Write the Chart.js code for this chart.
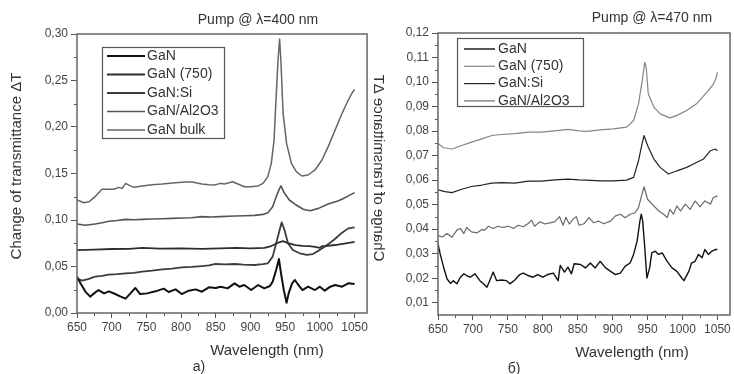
<!DOCTYPE html>
<html>
<head>
<meta charset="utf-8">
<script src="https://cdn.jsdelivr.net/npm/chart.js@4.4.1/dist/chart.umd.min.js"></script>
<style>
  body { margin: 0; background: #fff; }
  #wrap { position: relative; width: 734px; height: 374px; overflow: hidden; }
  .panel { position: absolute; top: 0; height: 374px; }
  #panelA { left: 0; width: 370px; }
  #panelB { left: 370px; width: 364px; }
</style>
</head>
<body>
<div id="wrap">
  <div class="panel" id="panelA"><canvas id="chartA"></canvas></div>
  <div class="panel" id="panelB"><canvas id="chartB"></canvas></div>
</div>
<script>
// ---- axis ticks ----
var xTicks = [650, 700, 750, 800, 850, 900, 950, 1000, 1050];
var xMinor = [675, 725, 775, 825, 875, 925, 975, 1025];
var yTicksA = [0, 0.05, 0.10, 0.15, 0.20, 0.25, 0.30];
var yMinorA = [0.025, 0.075, 0.125, 0.175, 0.225, 0.275];
var yTicksB = [0.01, 0.02, 0.03, 0.04, 0.05, 0.06, 0.07, 0.08, 0.09, 0.10, 0.11, 0.12];
var yMinorB = [0.015, 0.025, 0.035, 0.045, 0.055, 0.065, 0.075, 0.085, 0.095, 0.105, 0.115];

var labelsA = ["GaN", "GaN (750)", "GaN:Si", "GaN/Al2O3", "GaN bulk"];
var labelsB = ["GaN", "GaN (750)", "GaN:Si", "GaN/Al2O3"];

// ---- pump @ 400 nm ----
var ganA_wl = [650,655,662,669,676,681,689,696,705,713,720,727,734,741,751,763,775,782,792,801,811,821,830,840,850,857,867,877,884,891,901,911,920,928,932,937,941,944,948,952,955,960,964,969,975,983,993,1000,1007,1015,1022,1032,1041,1050];
var ganA_val = [0.039,0.032,0.023,0.0176,0.0219,0.0247,0.0211,0.0233,0.0204,0.0176,0.0154,0.0211,0.0269,0.0204,0.0211,0.0233,0.0262,0.0226,0.0254,0.0204,0.024,0.0254,0.0229,0.0276,0.0269,0.0283,0.0265,0.0319,0.0283,0.0301,0.0247,0.0301,0.0265,0.029,0.0337,0.0462,0.058,0.0427,0.0247,0.011,0.0211,0.0319,0.0355,0.0301,0.0247,0.0283,0.0247,0.0283,0.024,0.0283,0.0301,0.0283,0.0319,0.0312];

var g750A_wl = [650,675,700,725,744,770,800,830,856,880,900,920,930,940,947,954,965,975,985,993,1000,1003,1010,1022,1035,1050];
var g750A_val = [0.0675,0.0682,0.0688,0.069,0.07,0.0692,0.0695,0.069,0.0695,0.07,0.0695,0.07,0.072,0.0756,0.0772,0.0752,0.073,0.0722,0.0718,0.0712,0.07,0.0718,0.0722,0.0731,0.0745,0.0765];

var siA_wl = [650,657,666,676,686,696,708,720,732,744,758,773,787,801,815,830,840,850,863,877,890,906,918,925,932,937,942,945,949,954,961,971,981,990,998,1007,1020,1032,1041,1050];
var siA_val = [0.0373,0.0348,0.0365,0.0391,0.04,0.0412,0.0418,0.0427,0.0432,0.0444,0.0455,0.047,0.0478,0.0491,0.0495,0.0505,0.0512,0.0527,0.0522,0.0527,0.052,0.0516,0.0525,0.0534,0.0606,0.0749,0.0892,0.0975,0.0892,0.0749,0.0677,0.0642,0.0624,0.0634,0.067,0.0713,0.0785,0.0864,0.091,0.0921];

var alA_wl = [650,662,676,686,696,708,720,732,744,758,773,787,801,815,830,843,857,877,893,906,918,925,932,937,942,944,949,956,966,976,986,998,1012,1027,1039,1050];
var alA_val = [0.0957,0.0943,0.0957,0.097,0.0986,0.0995,0.1007,0.1003,0.1007,0.101,0.1014,0.1018,0.1022,0.1025,0.1036,0.1033,0.1036,0.1043,0.1046,0.105,0.106,0.1079,0.1143,0.1251,0.134,0.1366,0.1287,0.1215,0.1161,0.1115,0.11,0.1125,0.1172,0.1208,0.1251,0.1294];

var bulkA_wl = [650,660,668,676,686,696,703,710,715,720,726,732,744,758,773,792,806,816,830,840,848,857,862,869,874,882,891,901,911,918,925,930,934,937,940,942,944,947,952,959,966,974,983,993,1003,1012,1022,1032,1041,1046,1050];
var bulkA_val = [0.1215,0.1186,0.12,0.1251,0.133,0.133,0.133,0.1351,0.134,0.1394,0.137,0.1351,0.1366,0.138,0.1387,0.1401,0.1409,0.1409,0.1387,0.138,0.1376,0.1394,0.1387,0.14,0.1412,0.1387,0.1358,0.1358,0.1366,0.1394,0.1466,0.1609,0.186,0.2326,0.2756,0.2945,0.2685,0.2147,0.1824,0.1609,0.152,0.1473,0.1484,0.1538,0.1645,0.1789,0.1968,0.2147,0.229,0.236,0.2405];

// ---- pump @ 470 nm ----
var ganB_wl = [650,653,658,663,668,672,677,682,687,691,696,703,710,715,720,724,729,734,741,748,753,760,767,772,779,786,793,800,807,815,822,825,831,836,841,845,854,861,868,875,882,890,897,904,911,918,925,930,935,939,941,943,946,949,953,956,961,966,971,978,985,992,999,1002,1009,1013,1018,1023,1028,1032,1037,1042,1047,1050];
var ganB_val = [0.0341,0.03,0.0245,0.0197,0.0179,0.019,0.0177,0.0204,0.0218,0.0211,0.0204,0.0218,0.019,0.0177,0.0163,0.019,0.0225,0.019,0.0193,0.019,0.0177,0.0193,0.0215,0.0221,0.0211,0.0204,0.0215,0.0204,0.0215,0.0221,0.019,0.0252,0.0225,0.0245,0.0218,0.0259,0.0256,0.0242,0.0262,0.0242,0.0269,0.0242,0.0228,0.0215,0.0221,0.0249,0.0262,0.0297,0.0351,0.0433,0.0461,0.0433,0.0324,0.0201,0.0242,0.0303,0.031,0.0297,0.0303,0.0269,0.0242,0.0228,0.0201,0.019,0.0228,0.0262,0.0269,0.0297,0.0283,0.0317,0.0297,0.031,0.0317,0.0317];

var g750B_wl = [650,658,670,684,698,713,727,741,760,779,798,817,836,852,863,882,901,920,930,937,942,946,948,951,959,968,982,992,1006,1020,1035,1044,1048,1050];
var g750B_val = [0.0749,0.0732,0.0727,0.0741,0.0755,0.0768,0.0782,0.0786,0.079,0.0796,0.0796,0.0801,0.0807,0.0801,0.0799,0.0805,0.0809,0.0816,0.0843,0.0911,0.1,0.108,0.106,0.0952,0.0898,0.087,0.0854,0.0864,0.0884,0.0911,0.0959,0.099,0.1015,0.104];

var siB_wl = [650,660,670,684,698,713,727,741,760,779,798,817,836,852,863,882,901,920,930,937,942,945,950,959,968,980,992,1006,1020,1030,1040,1047,1050];
var siB_val = [0.056,0.0553,0.0549,0.0563,0.0574,0.058,0.0588,0.059,0.0588,0.0596,0.0596,0.0601,0.0604,0.0601,0.06,0.0597,0.0597,0.06,0.0611,0.0679,0.0747,0.0782,0.0741,0.0686,0.0652,0.0625,0.0638,0.0652,0.0672,0.0686,0.072,0.0727,0.072];

var alB_wl = [650,656,663,670,677,682,687,691,698,706,713,717,722,729,736,743,751,758,765,772,779,784,788,796,803,810,817,824,829,833,838,843,848,852,859,866,873,880,887,897,904,911,918,925,932,937,942,945,950,959,966,973,978,982,987,992,997,1004,1011,1018,1025,1032,1040,1044,1050];
var alB_val = [0.0375,0.0368,0.0382,0.0367,0.0396,0.0403,0.0382,0.0407,0.0389,0.0385,0.0399,0.0396,0.0412,0.0403,0.0412,0.0407,0.0412,0.0403,0.0416,0.041,0.0423,0.0437,0.0412,0.043,0.0421,0.0426,0.043,0.0451,0.0416,0.0448,0.0421,0.044,0.0451,0.0416,0.0422,0.0447,0.0426,0.0433,0.0422,0.0433,0.0454,0.0461,0.0447,0.0461,0.0467,0.0488,0.0543,0.0573,0.0522,0.0495,0.0474,0.0461,0.0447,0.0481,0.0461,0.0495,0.0474,0.0502,0.0481,0.0515,0.0491,0.0515,0.0502,0.0529,0.0536];

var FONT = "'Liberation Sans', Arial, sans-serif";
Chart.defaults.font.family = FONT;
Chart.defaults.color = "#444";

function points(wl, val) {
    return wl.map(function(w, i) { return { x: w, y: val[i] }; });
}

function comma(v) {
    return v.toFixed(2).replace(".", ",");
}

// frame, minor ticks, boxed legend and the free texts
var decor = {
    id: "decor",
    afterDraw: function(chart, args, o) {
        var ctx = chart.ctx, a = chart.chartArea;
        var xs = chart.scales.x, ys = chart.scales.y;
        ctx.save();

        ctx.strokeStyle = "#555";
        ctx.lineWidth = 1;
        ctx.beginPath();
        o.xMinor.forEach(function(v) {
            var p = Math.round(xs.getPixelForValue(v)) + 0.5;
            ctx.moveTo(p, a.bottom); ctx.lineTo(p, a.bottom + 3);
        });
        o.yMinor.forEach(function(v) {
            var p = Math.round(ys.getPixelForValue(v)) + 0.5;
            ctx.moveTo(a.left, p); ctx.lineTo(a.left - 3, p);
        });
        ctx.stroke();

        ctx.strokeStyle = "#666";
        ctx.lineWidth = 1.5;
        ctx.strokeRect(a.left, a.top, a.right - a.left, a.bottom - a.top);

        var L = o.legend;
        ctx.strokeStyle = "#555";
        ctx.lineWidth = 1.2;
        ctx.strokeRect(L.left + 0.5, L.top + 0.5, L.width, L.height);
        ctx.font = "14px " + FONT;
        ctx.textAlign = "left";
        ctx.textBaseline = "middle";
        ctx.fillStyle = "#333";
        chart.data.datasets.forEach(function(ds, i) {
            var y = L.firstRow + i * L.rowGap;
            ctx.strokeStyle = ds.borderColor;
            ctx.lineWidth = ds.borderWidth;
            ctx.beginPath();
            ctx.moveTo(L.lineFrom, y); ctx.lineTo(L.lineTo, y);
            ctx.stroke();
            ctx.fillText(ds.label, L.textX, y);
        });

        ctx.textAlign = "center";
        ctx.fillStyle = "#333";
        o.texts.forEach(function(t) {
            ctx.font = t.size + "px " + FONT;
            ctx.save();
            ctx.translate(t.x, t.y);
            if (t.vertical) {
                ctx.rotate(-Math.PI / 2);
                if (t.mirror) ctx.scale(1, -1);
            }
            ctx.fillText(t.text, 0, 0);
            ctx.restore();
        });
        ctx.restore();
    }
};

function makeChart(id, cfg) {
    var colors = cfg.colors, widths = cfg.widths;
    var datasets = cfg.series.map(function(s, i) {
        return {
            label: cfg.labels[i],
            data: points(s[0], s[1]),
            borderColor: colors[i],
            borderWidth: widths[i],
            pointRadius: 0,
            tension: 0,
            fill: false,
            borderJoinStyle: "round"
        };
    });
    return new Chart(document.getElementById(id), {
        type: "line",
        data: { datasets: datasets },
        plugins: [decor],
        options: {
            responsive: true,
            maintainAspectRatio: false,
            animation: false,
            layout: { padding: cfg.padding },
            plugins: {
                legend: { display: false },
                tooltip: { enabled: false },
                decor: {
                    xMinor: xMinor,
                    yMinor: cfg.yMinor,
                    legend: cfg.legend,
                    texts: cfg.texts
                }
            },
            scales: {
                x: {
                    type: "linear",
                    min: 650,
                    max: 1068,
                    afterBuildTicks: function(s) {
                        s.ticks = xTicks.map(function(v) { return { value: v }; });
                    },
                    afterFit: function(s) { s.height = cfg.xHeight; },
                    ticks: {
                        font: { size: 12 },
                        padding: 2,
                        maxRotation: 0,
                        callback: function(v) { return String(v); }
                    },
                    grid: { drawOnChartArea: false, tickLength: 5, tickColor: "#555" },
                    border: { display: false }
                },
                y: {
                    min: cfg.yMin,
                    max: cfg.yMax,
                    afterBuildTicks: function(s) {
                        s.ticks = cfg.yTicks.map(function(v) { return { value: v }; });
                    },
                    afterFit: function(s) { s.width = cfg.yWidth; },
                    ticks: {
                        font: { size: 12 },
                        padding: 3,
                        callback: function(v) { return comma(v); }
                    },
                    grid: { drawOnChartArea: false, tickLength: 6, tickColor: "#555" },
                    border: { display: false }
                }
            }
        }
    });
}

makeChart("chartA", {
    labels: labelsA,
    series: [[ganA_wl, ganA_val], [g750A_wl, g750A_val], [siA_wl, siA_val], [alA_wl, alA_val], [bulkA_wl, bulkA_val]],
    colors: ["#111111", "#2e2e2e", "#3c3c3c", "#555555", "#666666"],
    widths: [2, 1.8, 1.8, 1.6, 1.5],
    yMin: 0, yMax: 0.30,
    yTicks: yTicksA, yMinor: yMinorA,
    padding: { left: 0, right: 2, top: 34, bottom: 0 },
    yWidth: 77, xHeight: 61,
    legend: { left: 102, top: 47, width: 122, height: 91, firstRow: 56, rowGap: 18.5, lineFrom: 107, lineTo: 145, textX: 147 },
    texts: [
        { text: "Pump @ \u03bb=400 nm", x: 258, y: 20, size: 14 },
        { text: "Wavelength (nm)", x: 267, y: 351, size: 15 },
        { text: "a)", x: 199, y: 367, size: 14 },
        { text: "Change of transmittance \u0394T", x: 17, y: 166, size: 15, vertical: true }
    ]
});

makeChart("chartB", {
    labels: labelsB,
    series: [[ganB_wl, ganB_val], [g750B_wl, g750B_val], [siB_wl, siB_val], [alB_wl, alB_val]],
    colors: ["#111111", "#858585", "#222222", "#6a6a6a"],
    widths: [1.4, 1.2, 1.2, 1.2],
    yMin: 0.005, yMax: 0.12,
    yTicks: yTicksB, yMinor: yMinorB,
    padding: { left: 0, right: 4, top: 33, bottom: 0 },
    yWidth: 68, xHeight: 59,
    legend: { left: 87, top: 38, width: 126, height: 68, firstRow: 49, rowGap: 17.3, lineFrom: 94, lineTo: 125, textX: 128 },
    texts: [
        { text: "Pump @ \u03bb=470 nm", x: 282, y: 18, size: 14 },
        { text: "Wavelength (nm)", x: 262, y: 353, size: 15 },
        { text: "\u0431)", x: 144, y: 369, size: 14 },
        { text: "Change of transmittance \u0394T", x: 8, y: 168, size: 15, vertical: true, mirror: true }
    ]
});
</script>
</body>
</html>
